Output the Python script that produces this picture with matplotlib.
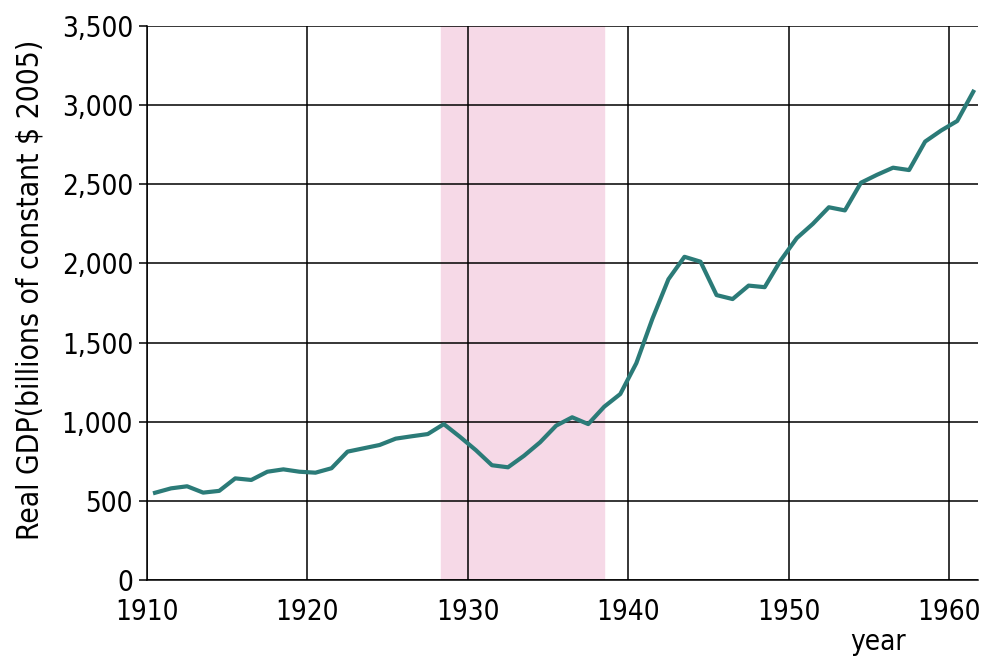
import matplotlib
matplotlib.use("Agg")
from matplotlib import pyplot as plt
from matplotlib.ticker import FuncFormatter
import numpy as np

plt.rcParams['font.family'] = ['DejaVu Sans']
plt.rcParams['font.stretch'] = 'condensed'

# annual real GDP, billions of constant 2005 dollars
years = np.arange(1910, 1962)
gdp = [551, 579, 592, 552, 563, 642, 632, 684, 699, 684,
       678, 706, 811, 832, 853, 893, 908, 922, 985, 905,
       820, 725, 712, 785, 870, 975, 1028, 985, 1095, 1175,
       1370, 1650, 1900, 2042, 2011, 1800, 1775, 1860, 1850, 2020,
       2160, 2250, 2355, 2335, 2510, 2560, 2605, 2590, 2770, 2840,
       2900, 3085]
depression = (1928.3, 1938.5)

yticks = np.arange(0, 3501, 500)
xticks = np.arange(1910, 1961, 10)

fig = plt.figure(figsize=(9.82, 6.59), dpi=100)
ax = fig.add_axes([0.1497, 0.1199, 0.8463, 0.8406])

ax.axvspan(depression[0], depression[1], color="#f6d9e7", zorder=0)
for y in yticks:
    ax.axhline(y, color="black", lw=1.1, zorder=1)
for x in xticks:
    ax.axvline(x, color="black", lw=1.1, zorder=1)

# values are plotted at mid-year
ax.plot(years + 0.5, gdp, color="#2b7b78", lw=3.0, zorder=3)

ax.set_xlim(1910, 1961.8)
ax.set_ylim(0, 3500)
ax.set_yticks(yticks)
ax.set_xticks(xticks)
ax.yaxis.set_major_formatter(FuncFormatter(lambda v, p: f"{int(v):,}"))
ax.tick_params(axis="y", length=6, width=1.1, labelsize=20, pad=4)
ax.tick_params(axis="x", length=0, labelsize=20, pad=13)
for s in ["top", "right"]:
    ax.spines[s].set_visible(False)
for s in ["left", "bottom"]:
    ax.spines[s].set_linewidth(1.1)

ax.set_ylabel("Real GDP(billions of constant $ 2005)", fontsize=21.5)
ax.yaxis.set_label_coords(-0.123, 0.523)
fig.text(0.922, 0.004, "year", fontsize=20, ha="right", va="bottom")

plt.savefig("out.png", dpi=100)
